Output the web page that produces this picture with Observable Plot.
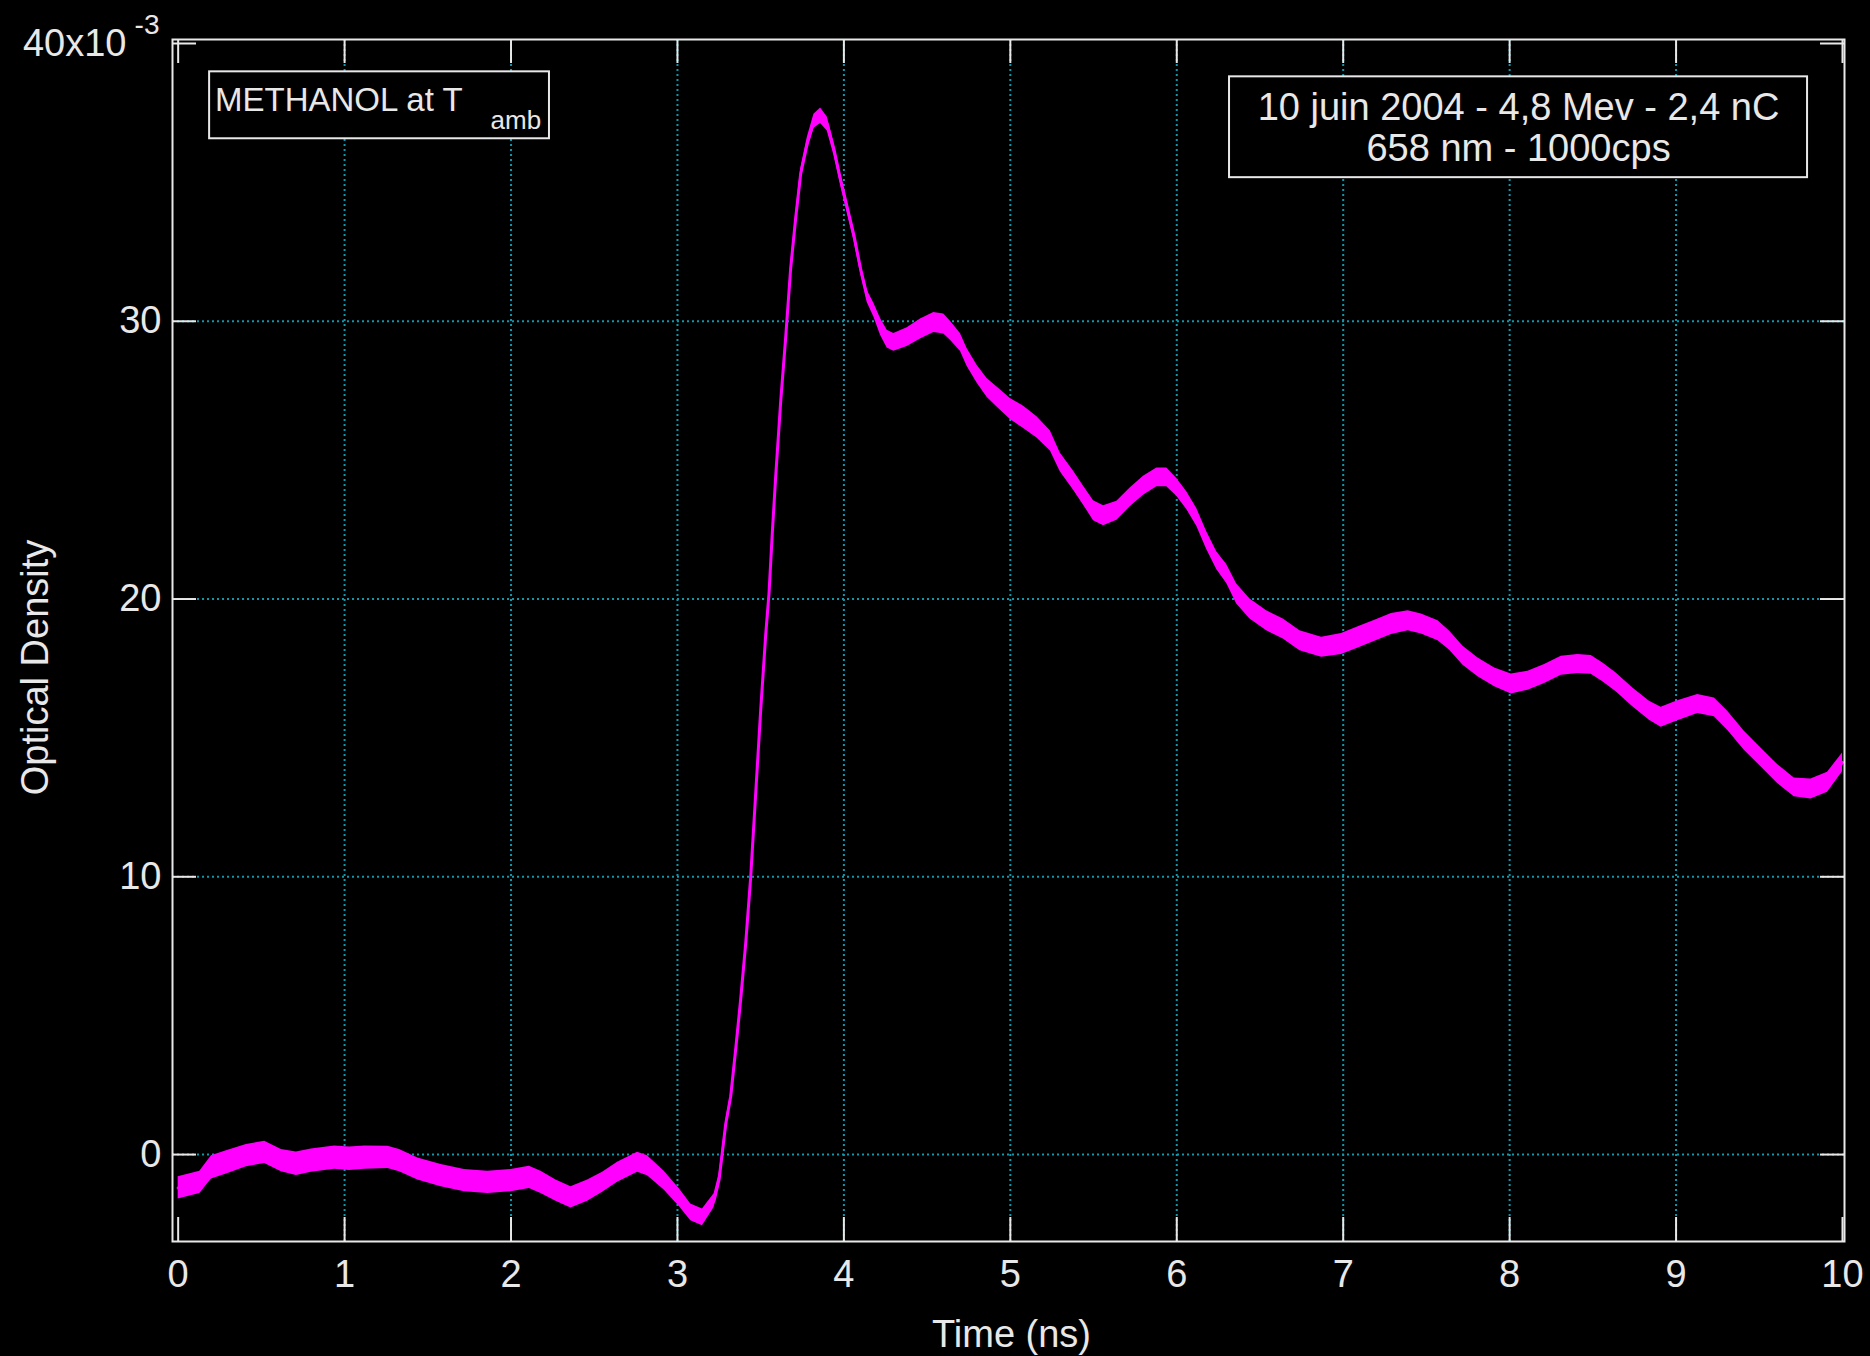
<!DOCTYPE html>
<html><head><meta charset="utf-8">
<script src="https://cdn.jsdelivr.net/npm/d3@7"></script>
<script src="https://cdn.jsdelivr.net/npm/@observablehq/plot@0.6"></script>
<style>html,body{margin:0;padding:0;background:#000;} svg{display:block}</style>
</head><body><div id="chart"></div>
<script>
// Time (ns)
const time = [0.00,0.13,0.20,0.29,0.41,0.52,0.62,0.71,0.80,0.94,
1.03,1.12,1.26,1.33,1.44,1.58,1.72,1.86,2.00,2.11,
2.18,2.27,2.36,2.46,2.55,2.64,2.76,2.82,2.92,3.01,
3.08,3.15,3.22,3.25,3.29,3.32,3.35,3.38,3.41,3.44,
3.47,3.50,3.53,3.55,3.57,3.59,3.62,3.65,3.68,3.71,
3.74,3.78,3.82,3.86,3.90,3.94,3.98,4.02,4.06,4.10,
4.14,4.18,4.22,4.26,4.30,4.38,4.46,4.54,4.60,4.64,
4.70,4.74,4.80,4.86,4.92,5.00,5.08,5.16,5.24,5.30,
5.38,5.44,5.50,5.56,5.64,5.72,5.80,5.88,5.94,6.00,
6.06,6.12,6.18,6.24,6.30,6.36,6.44,6.54,6.64,6.74,
6.87,6.99,7.09,7.19,7.29,7.39,7.47,7.57,7.64,7.72,
7.81,7.91,8.01,8.11,8.21,8.31,8.41,8.49,8.56,8.64,
8.74,8.84,8.91,9.01,9.13,9.23,9.31,9.41,9.51,9.61,
9.71,9.81,9.91,10.00];
// Optical density (x10^-3), centre of the trace
const od = [-1.2,-1.0,-0.46,-0.28,-0.04,0.08,-0.22,-0.33,-0.22,-0.11,
-0.15,-0.11,-0.10,-0.22,-0.52,-0.76,-0.94,-1.0,-0.94,-0.82,
-1.0,-1.30,-1.54,-1.30,-1.0,-0.64,-0.28,-0.4,-0.94,-1.54,
-2.08,-2.26,-1.66,-0.9,1.1,2.1,3.8,5.6,7.6,10.0,
13.0,16.0,18.7,20.2,22.4,24.4,27.1,29.4,31.9,33.7,
35.3,36.4,37.2,37.4,37.1,36.2,35.1,34.1,33.1,31.9,
30.9,30.4,29.8,29.36,29.24,29.43,29.72,29.96,29.9,29.66,
29.24,28.7,28.1,27.6,27.27,26.84,26.54,26.18,25.7,24.92,
24.26,23.72,23.18,23.0,23.18,23.66,24.08,24.38,24.38,24.02,
23.54,22.94,22.1,21.38,20.9,20.18,19.64,19.22,18.92,18.5,
18.26,18.38,18.62,18.86,19.1,19.22,19.1,18.86,18.5,17.96,
17.54,17.18,16.94,17.06,17.3,17.6,17.66,17.63,17.36,17.0,
16.46,15.98,15.74,15.98,16.22,16.1,15.62,14.9,14.3,13.7,
13.22,13.16,13.4,14.12];
// Half-width of the noise band (x10^-3)
const noise = [0.40,0.40,0.42,0.42,0.40,0.40,0.40,0.42,0.42,0.42,
0.42,0.42,0.40,0.40,0.40,0.40,0.40,0.40,0.40,0.40,
0.40,0.38,0.38,0.38,0.36,0.36,0.36,0.36,0.34,0.32,
0.30,0.30,0.25,0.20,0.12,0.12,0.12,0.12,0.12,0.12,
0.12,0.12,0.12,0.12,0.12,0.12,0.12,0.12,0.15,0.15,
0.18,0.22,0.25,0.28,0.25,0.22,0.20,0.20,0.20,0.20,
0.22,0.25,0.30,0.32,0.32,0.34,0.36,0.36,0.36,0.34,
0.32,0.32,0.32,0.34,0.36,0.38,0.40,0.38,0.36,0.34,
0.34,0.34,0.36,0.36,0.34,0.34,0.34,0.34,0.34,0.32,
0.32,0.32,0.32,0.32,0.34,0.36,0.36,0.36,0.36,0.36,
0.36,0.38,0.38,0.38,0.38,0.36,0.36,0.36,0.34,0.34,
0.34,0.34,0.36,0.34,0.34,0.34,0.34,0.34,0.34,0.34,
0.34,0.34,0.36,0.36,0.34,0.34,0.34,0.34,0.34,0.34,
0.34,0.36,0.36,0.34];

const xTicks = [0,1,2,3,4,5,6,7,8,9,10];
const yTicks = [0,10,20,30,40];
const xGrid = [1,2,3,4,5,6,7,8,9];
const yGrid = [0,10,20,30];
const yTickLabels = ["0","10","20","30"];
const topLabel = "40x10";
const topLabelExp = "-3";
const sampleTitle = "METHANOL at T";
const sampleSub = "amb";
const runInfo = ["10 juin 2004 - 4,8 Mev - 2,4 nC", "658 nm - 1000cps"];
const xLabel = "Time (ns)";
const yLabel = "Optical Density";

const data = time.map((t, i) => ({t, od: od[i], lo: od[i] - noise[i], hi: od[i] + noise[i]}));

const W = 1870, H = 1356, mL = 172, mR = 26, mT = 39, mB = 115;
const frameW = W - mL - mR, frameH = H - mT - mB;
const xDom = [-0.034, 10.012], yDom = [-3.13, 40.144];
const white = "#e8e8e8", gridC = "#0f97aa", mag = "#ff00ff";
const font = "'Liberation Sans', Arial, sans-serif";
const tk = 24;

const plot = Plot.plot({
  width: W, height: H,
  marginLeft: mL, marginRight: mR, marginTop: mT, marginBottom: mB,
  style: {background: "#000", color: white, fontFamily: font, fontSize: "38px"},
  x: {domain: xDom, label: null},
  y: {domain: yDom, label: null},
  marks: [
    Plot.ruleX(xGrid, {stroke: gridC, strokeWidth: 2, strokeDasharray: "2,3"}),
    Plot.ruleY(yGrid, {stroke: gridC, strokeWidth: 2, strokeDasharray: "2,3"}),
    // annotation boxes
    Plot.rect([0], {x1: () => 0.189, x2: () => 2.231, y1: () => 36.57, y2: () => 38.98, fill: "#000", stroke: white, strokeWidth: 2}),
    Plot.rect([0], {x1: () => 6.317, x2: () => 9.790, y1: () => 35.17, y2: () => 38.80, fill: "#000", stroke: white, strokeWidth: 2}),
    Plot.text([sampleTitle], {x: () => 1.709, y: () => 37.94, textAnchor: "end", fontSize: 33, fontFamily: font, fill: white}),
    Plot.text([sampleSub], {x: () => 1.877, y: () => 37.22, textAnchor: "start", fontSize: 26, fontFamily: font, fill: white}),
    Plot.text([runInfo.join("\n")], {x: () => (6.317 + 9.790) / 2, y: () => (35.17 + 38.80) / 2, lineHeight: 1.08, fontSize: 38, fontFamily: font, fill: white}),
    // trace
    Plot.areaY(data, {x: "t", y1: "lo", y2: "hi", fill: mag}),
    Plot.line(data, {x: "t", y: "od", stroke: mag, strokeWidth: 3}),
    // frame and inward ticks
    Plot.frame({stroke: white, strokeWidth: 2}),
    Plot.ruleX(xTicks, {stroke: white, strokeWidth: 2, insetTop: frameH - tk}),
    Plot.ruleX(xTicks, {stroke: white, strokeWidth: 2, insetBottom: frameH - tk}),
    Plot.ruleY(yTicks, {stroke: white, strokeWidth: 2, insetRight: frameW - tk}),
    Plot.ruleY(yTicks, {stroke: white, strokeWidth: 2, insetLeft: frameW - tk}),
    // tick labels
    Plot.axisX(xTicks, {tickSize: 0, tickPadding: 19, fontSize: 38, fontFamily: font, label: null, tickFormat: d => String(d)}),
    Plot.axisY(yGrid, {tickSize: 0, tickPadding: 11, fontSize: 38, fontFamily: font, label: null, tickFormat: (d, i) => yTickLabels[i]}),
    Plot.text([topLabel], {x: () => xDom[0], y: () => 40, textAnchor: "end", dx: -46, fontSize: 38, fontFamily: font, fill: white}),
    Plot.text([topLabelExp], {x: () => xDom[0], y: () => 40, textAnchor: "end", dx: -13, dy: -18, fontSize: 28, fontFamily: font, fill: white}),
    // axis titles
    Plot.text([xLabel], {frameAnchor: "bottom", textAnchor: "middle", lineAnchor: "middle", dx: 3, dy: 93, fontSize: 38, fontFamily: font, fill: white}),
    Plot.text([yLabel], {frameAnchor: "left", textAnchor: "middle", lineAnchor: "middle", rotate: -90, dx: -137, dy: 27, fontSize: 38, fontFamily: font, fill: white})
  ]
});
document.getElementById("chart").appendChild(plot);
</script>
</body></html>
